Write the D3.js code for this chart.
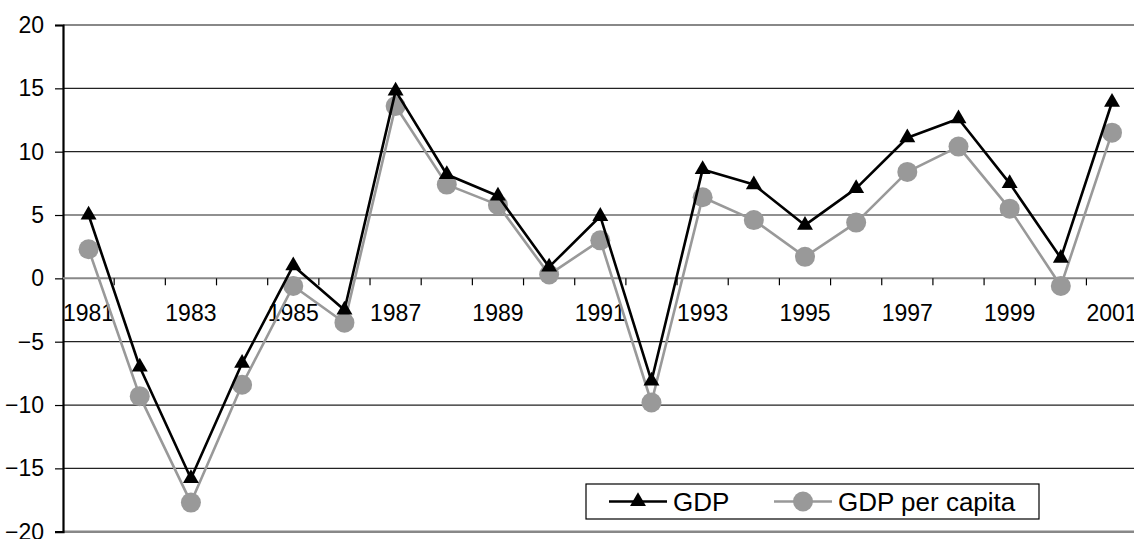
<!DOCTYPE html>
<html>
<head>
<meta charset="utf-8">
<script src="https://cdn.jsdelivr.net/npm/d3@7"></script>
<style>
  html, body { margin: 0; padding: 0; background: #fff; }
  svg { display: block; font-family: "Liberation Sans", Arial, sans-serif; }
</style>
</head>
<body>
<svg id="chart" width="1134" height="539"></svg>
<script>
const years = [1981,1982,1983,1984,1985,1986,1987,1988,1989,1990,1991,1992,1993,1994,1995,1996,1997,1998,1999,2000,2001];
const gdp = [5.0,-7.0,-15.8,-6.7,1.0,-2.5,14.8,8.2,6.5,0.9,4.9,-8.1,8.6,7.4,4.2,7.1,11.1,12.6,7.5,1.6,13.9];
const gdpPerCapita = [2.3,-9.3,-17.7,-8.4,-0.6,-3.5,13.6,7.4,5.8,0.3,3.0,-9.8,6.4,4.6,1.7,4.4,8.4,10.4,5.5,-0.6,11.5];
const yTicks = [-20,-15,-10,-5,0,5,10,15,20];
const xLabels = [1981,1983,1985,1987,1989,1991,1993,1995,1997,1999,2001];
const seriesNames = ["GDP", "GDP per capita"];

(function () {
const svg = d3.select("#chart");
const mLeft = 63, mRight = 1137.6, mTop = 25, mBottom = 531.7;

const x = d3.scaleBand().domain(years).range([mLeft, mRight]).padding(0);
const y = d3.scaleLinear().domain([-20, 20]).range([mBottom, mTop]);

// gridlines
svg.append("g").selectAll("line")
  .data(yTicks.filter(v => v !== 20 && v !== -20 && v !== 0))
  .join("line")
  .attr("x1", mLeft).attr("x2", 1134)
  .attr("y1", d => y(d)).attr("y2", d => y(d))
  .attr("stroke", "#222").attr("stroke-width", 1.2);

// top & bottom plot-area borders
svg.append("line").attr("x1", mLeft).attr("x2", 1134)
  .attr("y1", y(20)).attr("y2", y(20))
  .attr("stroke", "#888").attr("stroke-width", 2);
svg.append("line").attr("x1", mLeft).attr("x2", 1134)
  .attr("y1", y(-20)).attr("y2", y(-20))
  .attr("stroke", "#888").attr("stroke-width", 2.5);

// y axis
const yAxis = d3.axisLeft(y).tickValues(yTicks).tickSize(8).tickPadding(11).tickFormat(d3.format("d"));
const gy = svg.append("g").attr("transform", `translate(${mLeft},0)`).call(yAxis);
gy.select(".domain").attr("stroke", "#000").attr("stroke-width", 2.2);
gy.selectAll(".tick line").attr("stroke", "#000").attr("stroke-width", 1.2);
gy.selectAll(".tick text").attr("font-size", 23).attr("fill", "#000")
  .attr("font-family", "Liberation Sans, Arial, sans-serif");

// x axis line at 0
const x0 = y(0);
svg.append("line").attr("x1", mLeft).attr("x2", 1134)
  .attr("y1", x0).attr("y2", x0)
  .attr("stroke", "#888").attr("stroke-width", 2);

// x ticks at band boundaries
svg.append("g").selectAll("line")
  .data(years.slice(1))
  .join("line")
  .attr("x1", d => x(d)).attr("x2", d => x(d))
  .attr("y1", x0).attr("y2", x0 + 7)
  .attr("stroke", "#000").attr("stroke-width", 1.2);

// x labels
svg.append("g").selectAll("text")
  .data(xLabels)
  .join("text")
  .attr("x", d => x(d) + x.bandwidth() / 2)
  .attr("y", x0 + 43)
  .attr("text-anchor", "middle")
  .attr("font-size", 23)
  .attr("fill", "#000")
  .text(d => d);

const cx = (d, i) => x(years[i]) + x.bandwidth() / 2;
const line = d3.line().x((d, i) => x(years[i]) + x.bandwidth() / 2).y(d => y(d));

// GDP per capita (grey, circles)
svg.append("path").datum(gdpPerCapita)
  .attr("d", line).attr("fill", "none")
  .attr("stroke", "#999").attr("stroke-width", 2.6).attr("stroke-linejoin", "round");
svg.append("g").selectAll("circle")
  .data(gdpPerCapita).join("circle")
  .attr("cx", cx).attr("cy", d => y(d)).attr("r", 10)
  .attr("fill", "#999");

// GDP (black, triangles)
const tri = d3.symbol().type(d3.symbolTriangle).size(110);
svg.append("path").datum(gdp)
  .attr("d", line).attr("fill", "none")
  .attr("stroke", "#000").attr("stroke-width", 2.6).attr("stroke-linejoin", "round");
svg.append("g").selectAll("path")
  .data(gdp).join("path")
  .attr("d", tri)
  .attr("transform", (d, i) => `translate(${cx(d, i)},${y(d)})`)
  .attr("fill", "#000");

// legend
const lg = svg.append("g");
lg.append("rect").attr("x", 586).attr("y", 484).attr("width", 453).attr("height", 35)
  .attr("fill", "#fff").attr("stroke", "#000").attr("stroke-width", 1.2);
const ly = 501.5;
lg.append("line").attr("x1", 609).attr("x2", 667).attr("y1", ly).attr("y2", ly)
  .attr("stroke", "#000").attr("stroke-width", 2.6);
lg.append("path").attr("d", tri).attr("transform", `translate(638,${ly})`).attr("fill", "#000");
lg.append("text").attr("x", 673).attr("y", ly + 9.5).attr("font-size", 26).attr("fill", "#000").text(seriesNames[0]);
lg.append("line").attr("x1", 774).attr("x2", 832).attr("y1", ly).attr("y2", ly)
  .attr("stroke", "#999").attr("stroke-width", 2.6);
lg.append("circle").attr("cx", 803).attr("cy", ly).attr("r", 10).attr("fill", "#999");
lg.append("text").attr("x", 838).attr("y", ly + 9.5).attr("font-size", 26).attr("fill", "#000").text(seriesNames[1]);
})();
</script>
</body>
</html>
